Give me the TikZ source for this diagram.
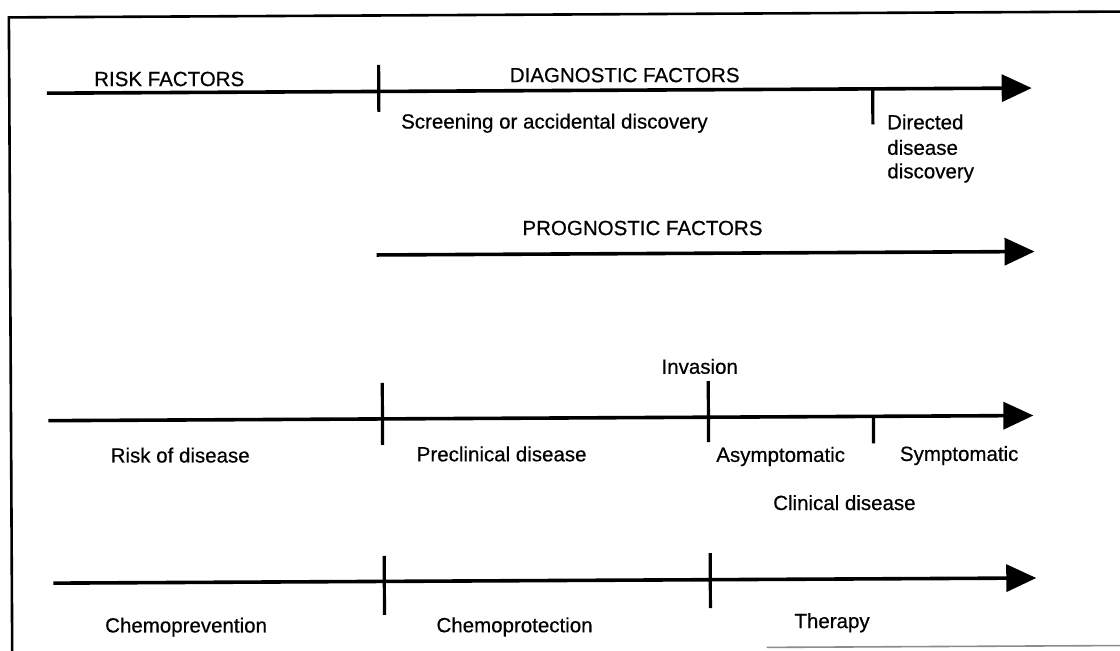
\documentclass[tikz,border=0pt]{standalone}
\usepackage{fontspec}
\setmainfont{Liberation Sans}[FakeBold=0.5]
\usetikzlibrary{arrows.meta}
\begin{document}
\begin{tikzpicture}[x=1pt,y=-1pt,
  axis/.style={line width=3.6pt},
  arrowaxis/.style={axis,-{Triangle[length=30pt,width=27pt]}},
  tickmark/.style={line width=3.2pt},
  lbl/.style={font=\fontsize{20.5}{25.5}\selectfont, inner sep=0pt, anchor=base},
  lblw/.style={lbl, anchor=base west},
  frame/.style={line width=2.6pt, line join=miter}]
\useasboundingbox (0,0) rectangle (1120,651);
\fill[white] (0,0) rectangle (1120,651);
\begin{scope}[rotate around={0.3:(560,330)}]
  % frame
  \coordinate (fbl) at (10.5,660);
  \coordinate (ftl) at (10.5,14.5);
  \coordinate (ftr) at (1130,14.5);
  \draw[frame] (fbl) -- (ftl) -- (ftr);
  \coordinate (fb1) at (765,648.5);
  \coordinate (fb2) at (1130,648.5);
  \draw[line width=1.6pt, black!45] (fb1) -- (fb2);

  % line 1: risk / diagnostic factors
  \coordinate (a1s) at (48,90.5);
  \coordinate (a1e) at (1033,90.5);
  \draw[arrowaxis] (a1s) -- (a1e);
  \coordinate (t1at) at (380,64);
  \coordinate (t1ab) at (380,111);
  \draw[tickmark] (t1at) -- (t1ab);
  \coordinate (t1bt) at (874,90.5);
  \coordinate (t1bb) at (874,126);
  \draw[tickmark] (t1bt) -- (t1bb);
  \node[lbl] (rf) at (170.5,84) {RISK FACTORS};
  \node[lbl] (df) at (626,82.5) {DIAGNOSTIC FACTORS};
  \node[lbl] (sc) at (555.5,128.5) {Screening or accidental discovery};
  \node[lblw] (dd1) at (888,131) {Directed};
  \node[lblw] (dd2) at (888,156.5) {disease};
  \node[lblw] (dd3) at (888,180) {discovery};

  % line 2: prognostic factors
  \coordinate (a2s) at (377,254);
  \coordinate (a2e) at (1035,254);
  \draw[arrowaxis] (a2s) -- (a2e);
  \node[lbl] (pf) at (643,235.5) {PROGNOSTIC FACTORS};

  % line 3: disease states
  \coordinate (a3s) at (48,418);
  \coordinate (a3e) at (1033,418);
  \draw[arrowaxis] (a3s) -- (a3e);
  \coordinate (t3at) at (382,382);
  \coordinate (t3ab) at (382,444);
  \draw[tickmark] (t3at) -- (t3ab);
  \coordinate (t3bt) at (708,382);
  \coordinate (t3bb) at (708,443);
  \draw[tickmark] (t3bt) -- (t3bb);
  \coordinate (t3ct) at (873,418);
  \coordinate (t3cb) at (873,445);
  \draw[tickmark] (t3ct) -- (t3cb);
  \node[lbl] (inv) at (699.5,374.5) {Invasion};
  \node[lbl] (rd) at (179.5,460.5) {Risk of disease};
  \node[lbl] (pd) at (501,461) {Preclinical disease};
  \node[lbl] (as) at (780,463) {Asymptomatic};
  \node[lbl] (sy) at (958.5,463) {Symptomatic};
  \node[lbl] (cd) at (843.5,511.5) {Clinical disease};

  % line 4: interventions
  \coordinate (a4s) at (52,580.5);
  \coordinate (a4e) at (1035,580.5);
  \draw[arrowaxis] (a4s) -- (a4e);
  \coordinate (t4at) at (383,555);
  \coordinate (t4ab) at (383,614);
  \draw[tickmark] (t4at) -- (t4ab);
  \coordinate (t4bt) at (709,554);
  \coordinate (t4bb) at (709,609);
  \draw[tickmark] (t4bt) -- (t4bb);
  \node[lbl] (cpv) at (184.5,630.5) {Chemoprevention};
  \node[lbl] (cpt) at (513,632) {Chemoprotection};
  \node[lbl] (th) at (830.5,629.5) {Therapy};
\end{scope}
\end{tikzpicture}
\end{document}
